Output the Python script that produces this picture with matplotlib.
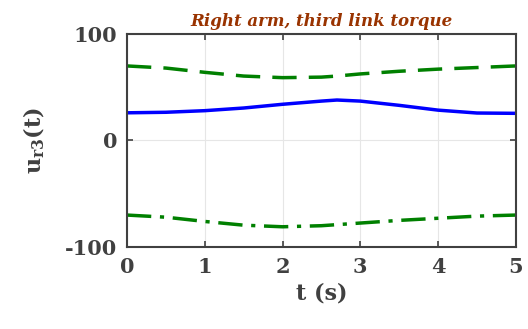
import matplotlib
matplotlib.use("Agg")
import matplotlib.pyplot as plt

# values
t = [0, 0.5, 1, 1.5, 2, 2.5, 2.7, 3, 3.5, 4, 4.5, 5]
u_upper = [70, 68, 64, 60.5, 59, 59.5, 60.5, 62.5, 65, 67, 68.5, 70]
u_r3 = [26, 26.5, 28, 30.5, 34, 37, 38, 37, 33, 28.5, 25.8, 25.5]
u_lower = [-70, -72, -76, -79.5, -81, -80, -79, -77.5, -75, -73, -71, -70]

xticks = [0, 1, 2, 3, 4, 5]
yticks = [-100, 0, 100]

gray = '#404040'
plt.rcParams['font.family'] = ['DejaVu Serif']
plt.rcParams['axes.unicode_minus'] = False
plt.rcParams['mathtext.fontset'] = 'custom'
plt.rcParams['mathtext.rm'] = 'DejaVu Serif:bold'
plt.rcParams['mathtext.it'] = 'DejaVu Serif:bold'

fig = plt.figure(figsize=(5.28, 3.29), dpi=100)
ax = fig.add_axes([0.2405, 0.2492, 0.7365, 0.6475])

ax.plot(t, u_upper, color='#008000', lw=2.5, dashes=(7, 3.5))
ax.plot(t, u_r3, color='#0000ff', lw=2.5)
ax.plot(t, u_lower, color='#008000', lw=2.5, dashes=(7, 2.5, 1.2, 2.5))

ax.set_xlim(0, 5)
ax.set_ylim(-100, 100)
ax.set_xticks(xticks)
ax.set_yticks(yticks)
ax.grid(True, color='#e6e6e6', lw=0.8)
ax.tick_params(direction='in', top=True, right=True, length=4, width=1.2,
               colors=gray, labelsize=15, pad=7)
for lab in ax.get_xticklabels() + ax.get_yticklabels():
    lab.set_fontweight('bold')
for s in ax.spines.values():
    s.set_color(gray)
    s.set_linewidth(1.5)

ax.set_xlabel('t (s)', fontsize=16, fontweight='bold', color=gray, labelpad=4)
ax.set_ylabel(r'$u_{r3}$(t)', fontsize=16, fontweight='bold', color=gray, labelpad=13)
ax.set_title('Right arm, third link torque', fontsize=12, fontweight='bold',
             fontstyle='italic', color='#993300', pad=6)

fig.savefig('out.png', dpi=100)
